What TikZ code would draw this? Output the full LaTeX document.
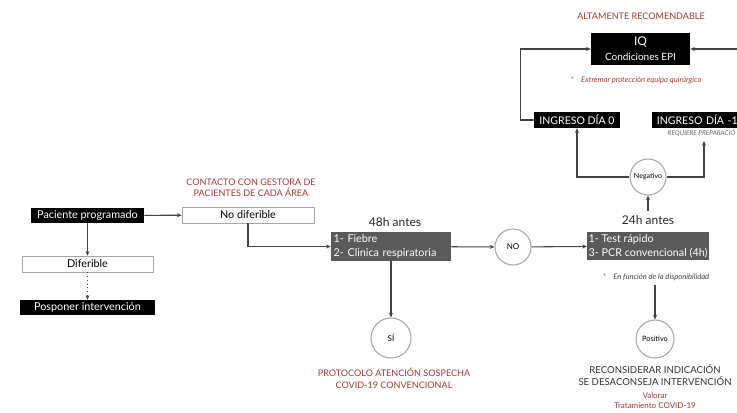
\documentclass[tikz,border=0pt]{standalone}
\usepackage{fontspec}
\setmainfont{Lato}
\usetikzlibrary{arrows.meta}
\definecolor{redtxt}{HTML}{A23A36}
\definecolor{boxgray}{HTML}{5A5A5A}
\definecolor{linegray}{HTML}{444444}
\definecolor{circgray}{HTML}{A8A8A8}
\begin{document}
\begin{tikzpicture}[x=0.75pt,y=-0.75pt,
  conn/.style={draw=linegray,line width=0.8pt,-{Stealth[length=3.5pt,width=3pt]}},
  blackbox/.style={fill=black,text=white,font=\fontsize{8.1}{9}\selectfont,inner sep=0pt},
  whitebox/.style={draw=gray!70,line width=0.6pt,fill=white,font=\fontsize{8.1}{9}\selectfont,inner sep=0pt},
  graybox/.style={fill=boxgray,text=white,align=left,font=\fontsize{8.1}{10.5}\selectfont,inner xsep=2pt,inner ysep=0pt},
  circ/.style={circle,draw=circgray,line width=0.8pt,fill=white,inner sep=0pt},
  redlbl/.style={text=redtxt,align=center,font=\fontsize{6.8}{8.6}\selectfont},
  note/.style={font=\itshape\fontsize{5.7}{6}\selectfont},
  heading/.style={font=\fontsize{9}{10}\selectfont,text=black!85}]
\useasboundingbox (0,0) rectangle (737,412);
\clip (0,0) rectangle (737,412);

% left part
\node[blackbox,minimum width=84.75pt,minimum height=11.25pt] (pac) at (87.5,215.5) {Paciente programado};
\node[whitebox,minimum width=99pt,minimum height=12pt] (nodif) at (248,215) {No diferible};
\node[whitebox,minimum width=98.25pt,minimum height=12pt] (dif) at (87.5,264) {Diferible};
\node[blackbox,minimum width=101.25pt,minimum height=11.25pt] (posp) at (87.5,307.5) {Posponer intervención};
\node[redlbl] (contacto) at (251,188) {CONTACTO CON GESTORA DE\\PACIENTES DE CADA ÁREA};

% 48h
\node[heading] (t48) at (395,222) {48h antes};
\node[graybox,text width=86pt,minimum height=21.75pt] (b48) at (391,246.5) {1- Fiebre\\2- Clinica respiratoria};
\node[circ,minimum size=27pt,font=\fontsize{6}{7}\selectfont] (no) at (513,247) {NO};
\node[circ,minimum size=30pt,font=\fontsize{6}{7}\selectfont] (si) at (391,338) {SÍ};
\node[redlbl] (proto) at (394,378.5) {PROTOCOLO ATENCIÓN SOSPECHA\\COVID-19 CONVENCIONAL};

% 24h
\node[heading] (t24) at (648,220) {24h antes};
\node[graybox,inner xsep=1pt,minimum width=88.5pt,minimum height=21pt] (b24) at (648,246) {1- Test rápido\\3- PCR convencional (4h)};
\node[note,text=black!75] (disp) at (656,277) {{\color{redtxt}*}\quad En función de la disponibilidad};
\node[circ,minimum size=28.5pt,font=\fontsize{5.5}{6}\selectfont] (pos) at (655,339) {Positivo};
\node[align=center,font=\fontsize{7.2}{9}\selectfont,text=black!80] (recon) at (655,375) {RECONSIDERAR INDICACIÓN\\SE DESACONSEJA INTERVENCIÓN};
\node[redlbl,font=\fontsize{6}{7.5}\selectfont] (valorar) at (655,401) {Valorar\\Tratamiento COVID-19};

% top
\node[circ,minimum size=27pt,font=\fontsize{5.3}{6}\selectfont] (neg) at (648,177) {Negativo};
\node[blackbox,minimum width=64.5pt,minimum height=12pt,font=\fontsize{7.9}{9}\selectfont] (in0) at (577,120) {INGRESO DÍA 0};
\node[blackbox,anchor=west,align=left,inner xsep=3.5pt,text width=90pt,minimum height=12pt,font=\fontsize{7.9}{9}\selectfont] (in1) at (652,120) {INGRESO DÍA -1};
\node[note,text=black!60,anchor=west,font=\itshape\fontsize{4.9}{5}\selectfont] (req) at (663,133) {REQUIERE PREPARACIÓ};
\node[blackbox,minimum width=74.25pt,minimum height=24pt,align=center,font=\fontsize{7.5}{9}\selectfont] (iq) at (640.5,49) {{\fontsize{9}{10}\selectfont IQ}\\[2pt]Condiciones EPI};
\node[redlbl] (alt) at (641,16) {ALTAMENTE RECOMENDABLE};
\node[note,text=redtxt] (extremar) at (636,80) {*\quad Extremar protección equipo quirúrgico};

\coordinate (c1) at (704,141);
\coordinate (edgeR) at (740,49);

% connectors
\draw[conn] (pac) -- (nodif);
\draw[conn] (pac) -- (dif);
\draw[conn,dotted] (dif) -- (posp);
\draw[conn] (nodif.south) |- (b48.west);
\draw[conn] (b48) -- (no);
\draw[conn] (no) -- (b24);
\draw[conn] (b48.south) -- (si);
\draw[conn] (t24.north) -- (neg.south);
\draw[conn] (pos |- disp.south) -- (pos.north);
\draw[conn] (neg.west) -| (in0.south);
\draw[conn] (neg.east) -| (c1);
\draw[conn] (in0.west) -- ++(-13,0) |- (iq.west);
\draw[conn] (edgeR) -- (iq.east);
\end{tikzpicture}
\end{document}
